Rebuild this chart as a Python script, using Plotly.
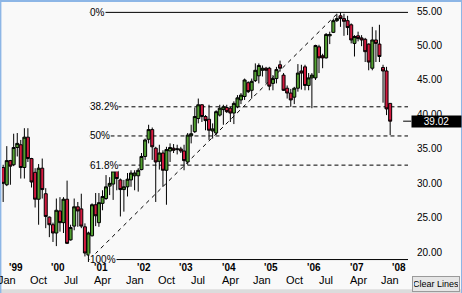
import pandas as pd
import plotly.graph_objects as go

# ---------------- data (monthly candles, Dec 1998 .. Jan 2008) ----------------
first_month = "1998-12-01"
opens = [32.3, 29.8, 33.3, 32.7, 35.2, 35.6, 32.3, 36.7, 33.6, 31.6, 27.7, 32.2, 28.5,
         25.1, 24.0, 22.8, 26.0, 24.3, 27.7, 21.8, 23.8, 26.6, 26.3, 23.7, 19.6,
         22.4, 26.9, 24.3, 27.1, 27.8, 29.6, 29.9, 31.8, 30.5, 29.1, 29.5, 30.5,
         31.1, 31.1, 32.0, 33.9, 36.4, 37.8, 35.1, 33.2, 34.4, 31.9, 34.7, 35.1,
         34.9, 35.0, 34.7, 33.1, 36.9, 37.5, 39.4, 41.4, 39.7, 39.3, 37.6, 37.3,
         39.9, 40.7, 41.0, 40.9, 40.2, 41.1, 42.1, 42.6, 44.6, 43.5, 44.9, 45.6,
         46.4, 46.7, 46.7, 44.5, 45.2, 47.2, 45.7, 43.8, 43.1, 42.5, 43.8, 46.3,
         46.9, 44.2, 45.3, 45.3, 49.8, 48.5, 48.2, 51.4, 51.9, 53.6, 54.3, 53.9,
         53.6, 53.0, 50.3, 51.4, 51.1, 50.9, 50.2, 46.7, 50.8, 50.2, 46.8, 46.3,
         41.6]
highs = [32.7, 35.4, 33.4, 37.2, 37.3, 36.3, 38.0, 38.0, 33.7, 32.2, 32.8, 33.6, 29.3,
         25.2, 24.3, 27.8, 28.0, 28.0, 30.4, 24.0, 27.8, 27.3, 28.5, 24.2, 23.0,
         27.1, 28.6, 28.6, 29.0, 31.2, 30.9, 32.5, 32.5, 30.7, 30.5, 31.5, 31.9,
         31.9, 32.2, 34.4, 36.5, 38.5, 38.1, 35.3, 35.6, 34.8, 35.3, 35.8, 35.7,
         35.6, 35.3, 35.6, 37.3, 38.5, 41.0, 42.3, 41.5, 39.9, 41.4, 38.7, 40.6,
         41.4, 41.4, 41.4, 41.1, 41.9, 42.8, 43.1, 45.2, 44.8, 45.2, 47.4, 47.4,
         47.1, 46.9, 46.9, 45.7, 46.9, 47.8, 46.0, 44.2, 43.7, 44.0, 47.3, 47.2,
         47.2, 46.0, 46.0, 50.1, 50.1, 48.8, 51.8, 52.0, 53.9, 54.6, 54.8, 54.6,
         54.3, 53.2, 51.5, 52.0, 51.5, 51.1, 50.3, 52.7, 52.2, 53.0, 47.2, 46.9,
         41.6]
lows = [27.3, 29.6, 29.8, 32.5, 33.9, 30.7, 30.7, 33.1, 29.4, 26.5, 24.0, 27.8, 23.5,
        22.2, 21.5, 20.9, 23.0, 22.8, 21.2, 21.7, 23.2, 23.7, 23.5, 19.4, 18.6,
        22.3, 23.8, 23.7, 26.1, 27.6, 28.3, 27.6, 29.0, 25.2, 25.9, 28.1, 29.5,
        29.0, 28.8, 31.9, 33.4, 35.8, 33.4, 27.3, 32.0, 29.5, 26.9, 33.1, 34.4,
        34.2, 34.4, 31.9, 32.7, 35.8, 37.3, 38.7, 38.9, 37.7, 36.3, 36.5, 37.0,
        39.7, 38.5, 40.2, 38.9, 38.6, 40.9, 41.5, 42.1, 43.1, 42.3, 44.7, 44.5,
        45.5, 44.5, 43.5, 43.5, 44.5, 46.2, 43.4, 42.3, 41.1, 41.5, 43.3, 43.6,
        43.5, 43.5, 40.9, 45.0, 46.0, 46.7, 48.1, 50.2, 51.8, 53.4, 52.7, 51.4,
        51.5, 50.3, 48.4, 50.6, 49.9, 47.6, 46.4, 46.4, 47.6, 47.6, 41.7, 39.9,
        37.0]
closes = [30.0, 33.3, 32.5, 35.2, 35.8, 32.3, 36.7, 33.6, 30.2, 27.7, 32.2, 29.1, 25.2,
          24.0, 22.8, 26.1, 24.3, 27.7, 21.3, 23.6, 26.6, 26.0, 23.8, 19.9, 22.8,
          26.9, 25.3, 27.2, 28.1, 29.5, 30.0, 31.8, 30.7, 29.1, 29.5, 30.6, 31.5,
          31.5, 31.9, 33.9, 36.3, 37.8, 35.3, 33.1, 34.4, 31.9, 34.9, 35.2, 34.8,
          35.0, 34.7, 33.3, 37.0, 37.2, 39.7, 41.4, 39.7, 39.1, 37.7, 37.9, 40.4,
          40.9, 41.1, 40.4, 40.2, 41.6, 42.4, 42.8, 45.0, 43.3, 44.8, 46.4, 47.1,
          46.7, 46.4, 44.1, 45.2, 46.5, 46.7, 43.5, 43.1, 42.1, 43.8, 46.0, 46.0,
          44.2, 45.3, 45.7, 50.0, 48.2, 48.2, 51.6, 51.6, 53.6, 53.9, 53.9, 53.5,
          52.6, 50.8, 51.3, 51.0, 50.8, 49.1, 47.6, 50.8, 50.3, 48.4, 46.3, 40.8,
          39.02]
last_price = 39.02

# Fibonacci retracement drawn between swing low and swing high
fib_low = 18.95
fib_high = 54.8
fib_low_date = "2000-12-10"
fib_high_date = "2006-10-15"
fib_ratios = [0.0, 0.382, 0.5, 0.618, 1.0]
fib_labels = ["0%", "38.2%", "50%", "61.8%", "100%"]
fib_dashed = [False, True, True, True, False]

# axes
y_ticks = [20, 25, 30, 35, 40, 45, 50, 55]
y_ticktext = ["20.00", "25.00", "30.00", "35.00", "40.00", "45.00", "50.00", "55.00"]
month_tick_dates = ["1999-01-01", "1999-10-01", "2000-07-01", "2001-04-01", "2002-01-01",
                    "2002-10-01", "2003-07-01", "2004-04-01", "2005-01-01", "2005-10-01",
                    "2006-07-01", "2007-04-01", "2008-01-01"]
month_tick_text = ["Jan", "Oct", "Jul", "Apr", "Jan", "Oct", "Jul", "Apr", "Jan", "Oct",
                   "Jul", "Apr", "Jan"]
year_dates = ["1999-01-01", "2000-01-01", "2001-01-01", "2002-01-01", "2003-01-01",
              "2004-01-01", "2005-01-01", "2006-01-01", "2007-01-01", "2008-01-01"]
year_text = ["'99", "'00", "'01", "'02", "'03", "'04", "'05", "'06", "'07", "'08"]
x_range = ["1998-11-21", "2008-06-02"]
y_range = [18.16, 56.16]

# ---------------- figure ----------------
BG = "#f9f9f9"
GREEN = "#52a031"
RED = "#d21a3f"
FONT = "Liberation Sans, Arial, sans-serif"

dates = pd.date_range(first_month, periods=len(closes), freq="MS")

fig = go.Figure()
fig.add_trace(go.Candlestick(
    x=dates, open=opens, high=highs, low=lows, close=closes,
    increasing=dict(line=dict(color="black", width=1), fillcolor=GREEN),
    decreasing=dict(line=dict(color="black", width=1), fillcolor=RED),
    whiskerwidth=0, showlegend=False, hoverinfo="skip",
))

shapes = []
annotations = []
rng = fib_high - fib_low
for r, lab, dashed in zip(fib_ratios, fib_labels, fib_dashed):
    lvl = fib_high - r * rng
    shapes.append(dict(type="line", xref="x", yref="y", x0=fib_low_date, x1=x_range[1],
                       y0=lvl, y1=lvl, layer="below",
                       line=dict(color="black", width=1, dash="4px,3px" if dashed else "solid")))
    annotations.append(dict(x=fib_low_date, y=lvl, xref="x", yref="y", text=lab,
                            showarrow=False, xanchor="left", yanchor="middle",
                            bgcolor=BG, borderpad=0,
                            font=dict(family=FONT, size=10, color="black")))

# trend line from swing low to swing high
shapes.append(dict(type="line", xref="x", yref="y", x0=fib_low_date, y0=fib_low,
                   x1=fib_high_date, y1=fib_high, layer="below",
                   line=dict(color="black", width=1, dash="4px,4px")))

# last price marker tick
shapes.append(dict(type="line", xref="paper", yref="y", x0=0.988, x1=1.008,
                   y0=last_price, y1=last_price, line=dict(color="black", width=1)))
annotations.append(dict(x=1, y=last_price, xref="paper", yref="y", text=f"{last_price:.2f}",
                        showarrow=False, xanchor="left", yanchor="middle", xshift=3,
                        bgcolor="black", width=47, height=9, borderpad=1, align="center",
                        font=dict(family=FONT, size=10, color="white")))

# x axis labels
for d, t in zip(year_dates, year_text):
    annotations.append(dict(x=d, y=0, xref="x", yref="paper", text=f"<b>{t}</b>",
                            showarrow=False, xanchor="left", yanchor="middle", yshift=-2,
                            font=dict(family=FONT, size=10, color="black")))
for d, t in zip(month_tick_dates, month_tick_text):
    annotations.append(dict(x=d, y=0, xref="x", yref="paper", text=t,
                            showarrow=False, xanchor="center", yanchor="middle", yshift=-15,
                            font=dict(family=FONT, size=11, color="black")))

# Clear Lines button
annotations.append(dict(x=1, y=0, xref="paper", yref="paper", text="Clear Lines",
                        showarrow=False, xanchor="left", yanchor="top", xshift=4, yshift=-11,
                        bgcolor="#e6e6e6", bordercolor="#9a9a9a", borderwidth=1,
                        width=44, height=12, borderpad=1,
                        font=dict(family=FONT, size=9, color="black")))

# window frame / scrollbar decorations
shapes += [
    dict(type="rect", xref="paper", yref="paper", x0=-0.01, x1=1.14, y0=-0.093, y1=-0.11,
         fillcolor="#dcdcdc", line=dict(width=0), layer="below"),
    dict(type="rect", xref="paper", yref="paper", x0=-0.01, x1=1.14, y0=1.004, y1=1.02,
         fillcolor="#8db6e6", line=dict(width=0)),
    dict(type="rect", xref="paper", yref="paper", x0=-0.006, x1=-0.0015, y0=-0.12, y1=1.02,
         fillcolor="#8db6e6", line=dict(width=0)),
    dict(type="rect", xref="paper", yref="paper", x0=1.1305, x1=1.14, y0=-0.12, y1=1.02,
         fillcolor="#8db6e6", line=dict(width=0)),
]

fig.update_layout(
    width=462, height=293,
    margin=dict(l=2, r=54, t=3, b=28, pad=0),
    paper_bgcolor=BG, plot_bgcolor=BG,
    showlegend=False,
    boxgap=0.08, boxgroupgap=0,
    xaxis=dict(type="date", range=x_range, showticklabels=False, showgrid=False,
               zeroline=False, showline=False, ticks="", rangeslider=dict(visible=False)),
    yaxis=dict(side="right", range=y_range, tickvals=y_ticks, ticktext=y_ticktext,
               showgrid=False, zeroline=False, showline=False, ticks="",
               ticklabelstandoff=8,
               tickfont=dict(family=FONT, size=10, color="black")),
    shapes=shapes,
    annotations=annotations,
)

fig.write_html("out.html", config={"displayModeBar": False},
               post_script="document.body.style.margin='0';document.body.style.overflow='hidden';")
